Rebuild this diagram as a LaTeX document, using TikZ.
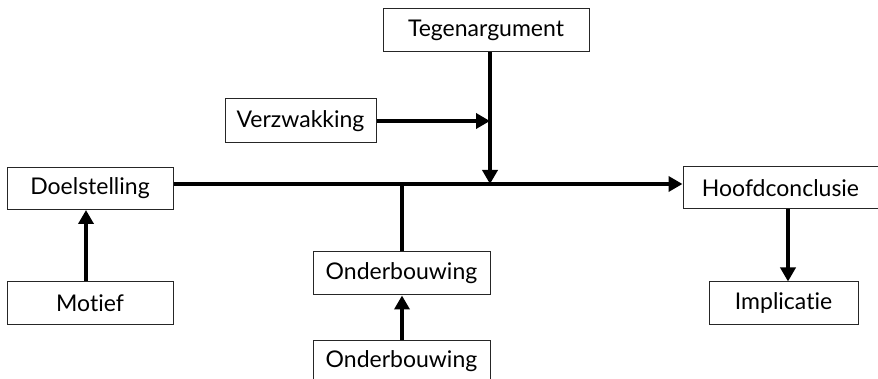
\documentclass[tikz,border=0pt]{standalone}
\usepackage{fontspec}
\setmainfont{Lato}[Ligatures=NoCommon]
\usetikzlibrary{arrows.meta}
\begin{document}
\begin{tikzpicture}[x=1pt,y=-1pt,
  box/.style={draw=black!85,line width=1pt,fill=white,inner sep=0pt,
    font=\fontsize{23}{27}\selectfont,text=black},
  link/.style={line width=4.5pt,-{Triangle[length=14pt,width=15pt]}},
  bar/.style={line width=4.5pt}]
\useasboundingbox (0,0) rectangle (878,379);
\clip (0,0) rectangle (878,379);
% boxes
\node[box,minimum width=166pt,minimum height=42pt] (doel) at (90,188.5) {Doelstelling};
\node[box,minimum width=166pt,minimum height=42pt] (motief) at (90,303) {Motief};
\node[box,minimum width=206pt,minimum height=43pt] (tegen) at (486,30.5) {Tegenargument};
\node[box,minimum width=151pt,minimum height=44pt] (verzw) at (300.5,121) {Verzwakking};
\node[box,minimum width=195pt,minimum height=42pt] (hoofd) at (780.5,188) {Hoofdconclusie};
\node[box,minimum width=149pt,minimum height=42pt] (impl) at (783.5,303) {Implicatie};
\node[box,minimum width=177pt,minimum height=43pt] (onder) at (401.5,273.5) {Onderbouwing};
\node[box,minimum width=177pt,minimum height=43pt] (onder2) at (401.5,361.5) {Onderbouwing};
% junction points on the main line
\coordinate (mainL) at (doel.east |- 0,184);
\coordinate (mainR) at (hoofd.west |- 0,184);
\coordinate (tegenJ) at (490,184);
\coordinate (verzJ) at (490,121);
\coordinate (onderJ) at (402,184);
% connectors
\draw[link] (mainL) -- (mainR);
\draw[link] (tegen.south -| tegenJ) -- (tegenJ);
\draw[link] (verzw.east) -- (verzJ);
\draw[bar] (onder.north -| onderJ) -- ([yshift=-2pt]onderJ);
\draw[link] (onder2.north -| onderJ) -- (onder.south -| onderJ);
\draw[link] (motief.north -| 86,0) -- (doel.south -| 86,0);
\draw[link] (hoofd.south -| 788,0) -- (impl.north -| 788,0);
\end{tikzpicture}
\end{document}
